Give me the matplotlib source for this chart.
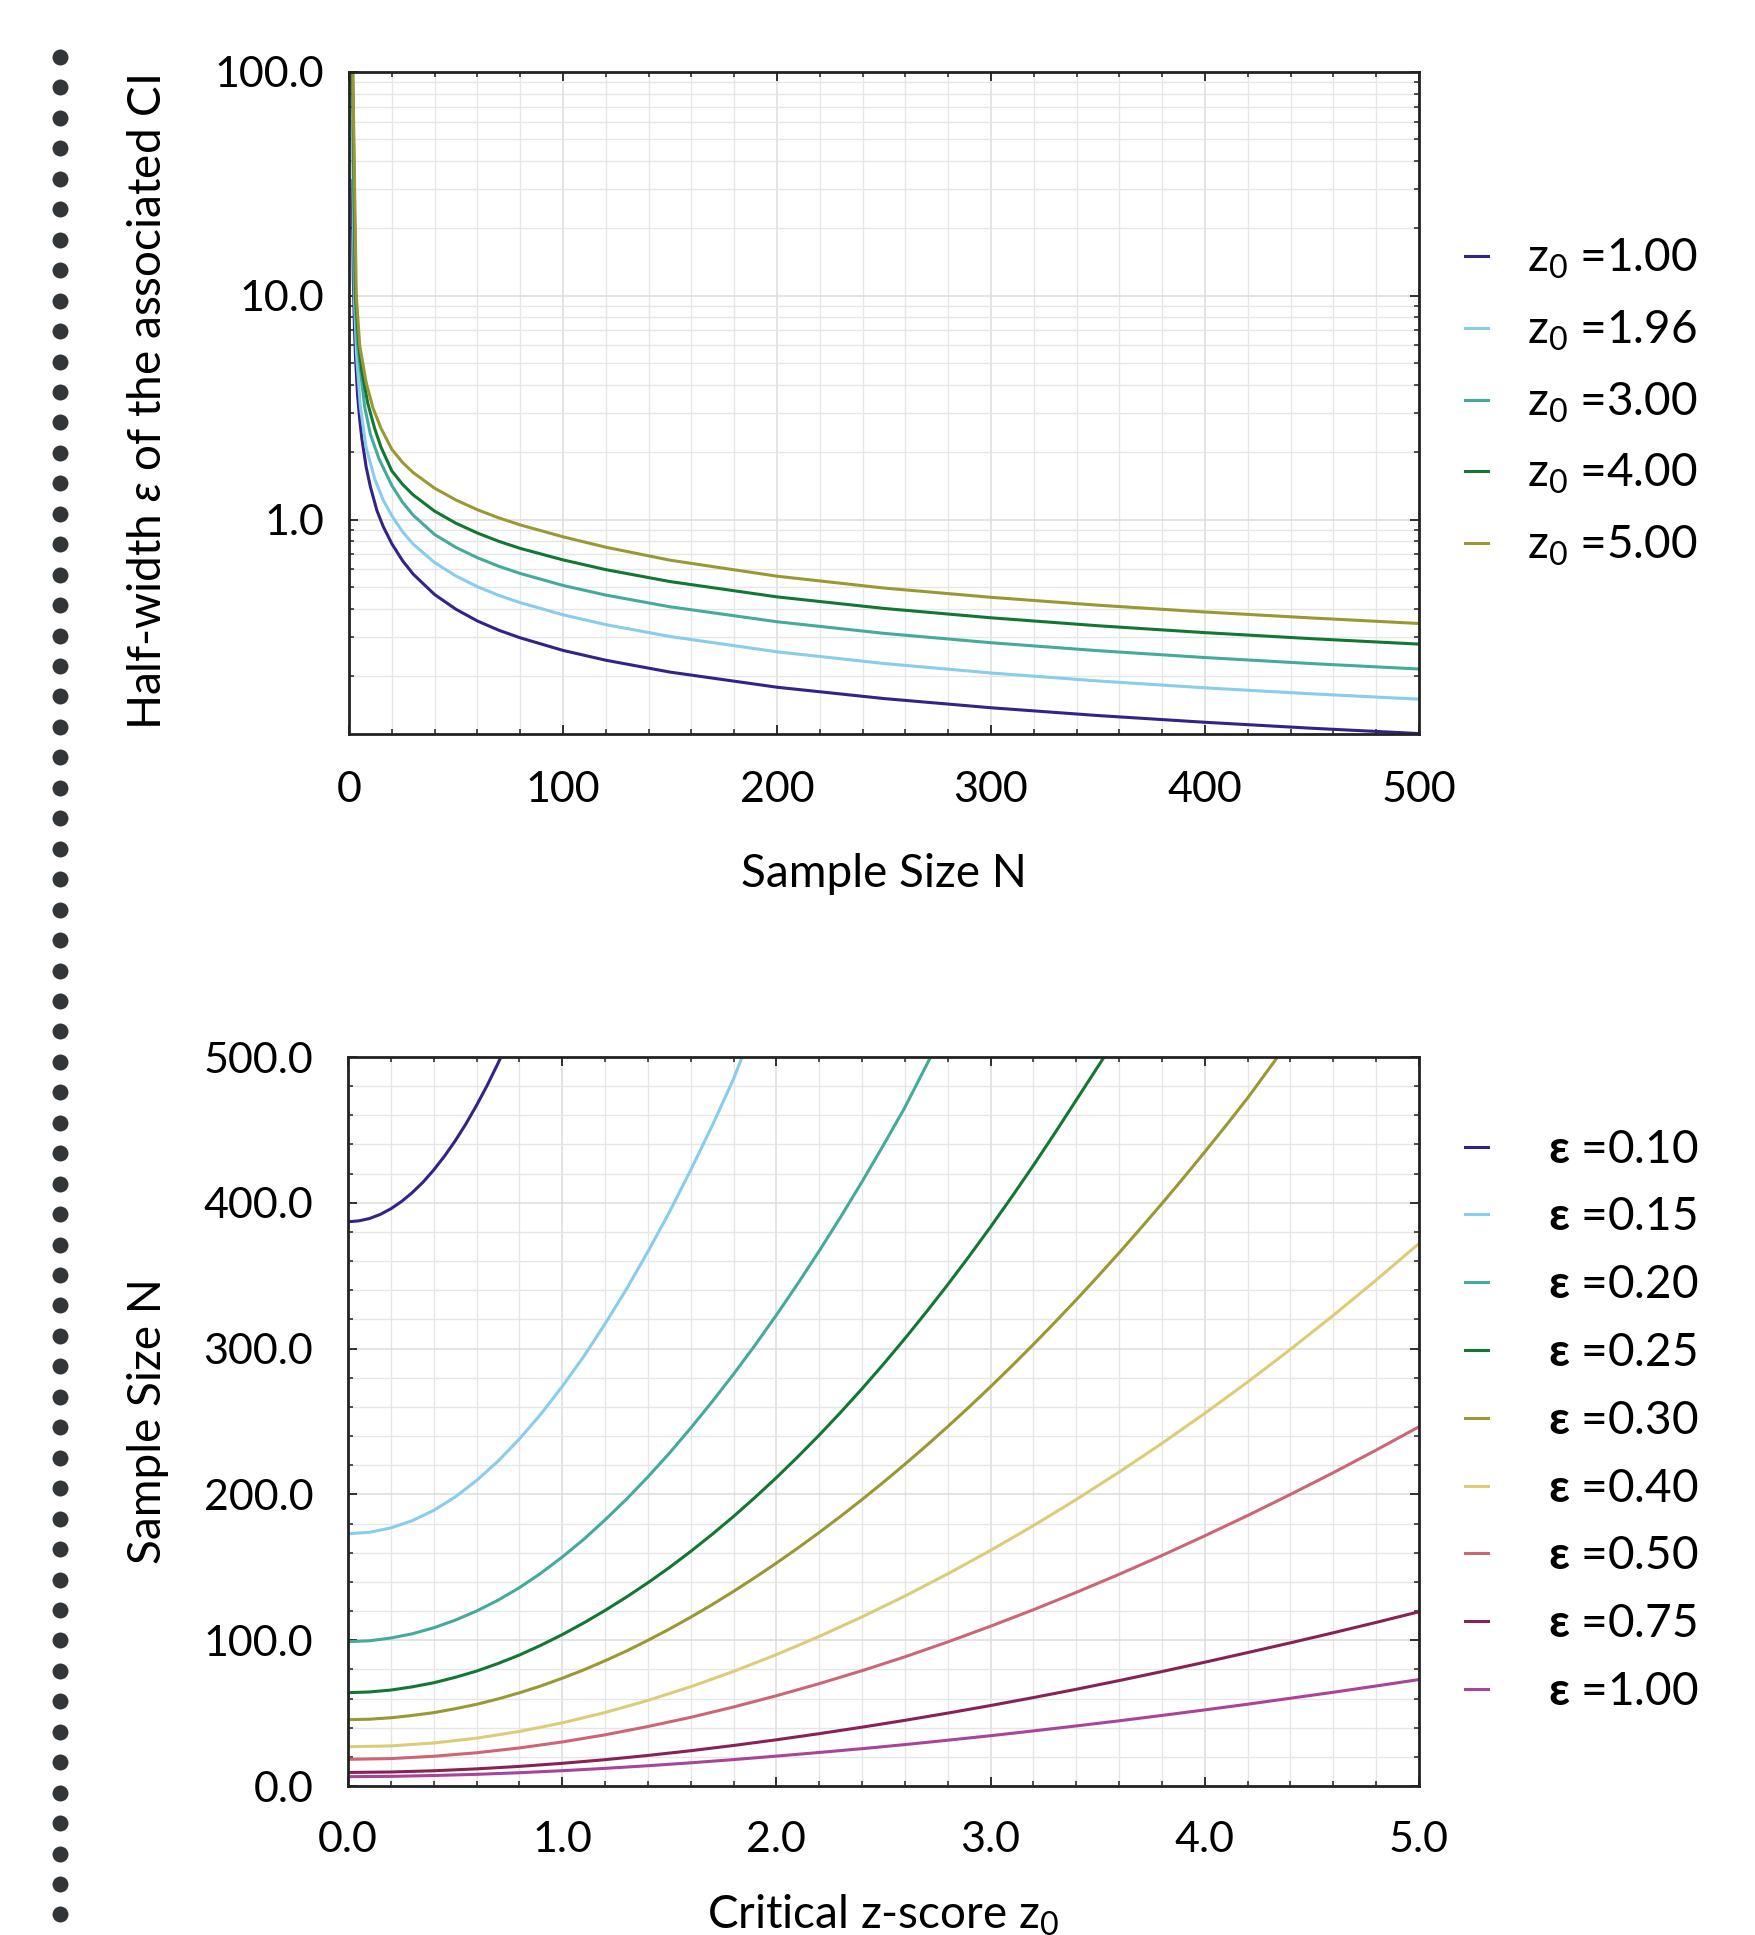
import numpy as np
import matplotlib.pyplot as plt
from matplotlib.ticker import MultipleLocator, FormatStrFormatter, LogLocator, NullFormatter

plt.rcParams['font.family'] = ['Lato', 'DejaVu Sans']
plt.rcParams['mathtext.fontset'] = 'custom'
plt.rcParams['mathtext.rm'] = 'Lato'
plt.rcParams['mathtext.it'] = 'Lato:italic'
plt.rcParams['mathtext.bf'] = 'Lato:bold'
plt.rcParams['mathtext.fallback'] = 'stix'

# ---- top panel: half-width vs sample size, one curve per z0 ----
z_levels = [1.00, 1.96, 3.00, 4.00, 5.00]

N_z1 = [1.5, 2.0, 2.5, 3, 4, 5, 6, 8, 10, 13, 16, 20, 25, 30, 40, 50, 60, 70, 80,
        100, 120, 150, 200, 250, 300, 350, 400, 450, 500]
eps_z1 = [32.7, 12, 7.5, 5.4, 3.6, 2.8, 2.3, 1.72, 1.4, 1.1, 0.93, 0.78, 0.655, 0.57, 0.462,
          0.397, 0.352, 0.320, 0.296, 0.260, 0.235, 0.208, 0.178, 0.1584, 0.1441, 0.1330,
          0.1241, 0.1167, 0.1105]

N_z196 = [1.5, 2.5, 3.5, 5.3, 8, 12, 16, 20, 25, 30, 40, 50, 60, 70, 80, 100, 120, 150,
          200, 250, 300, 350, 400, 450, 500]
eps_z196 = [60, 10, 5.5, 3.2, 2.1, 1.52, 1.22, 1.04, 0.882, 0.776, 0.642, 0.559, 0.501, 0.458,
            0.425, 0.375, 0.339, 0.300, 0.2563, 0.2272, 0.2061, 0.1899, 0.1769, 0.1663, 0.1574]

N_z3 = [1.6, 2.8, 4, 7.3, 10, 14, 20, 25, 30, 40, 50, 60, 70, 80, 100, 120, 150, 200,
        250, 300, 350, 400, 450, 500]
eps_z3 = [100, 10, 6, 3.2, 2.4, 1.87, 1.42, 1.195, 1.045, 0.857, 0.750, 0.675, 0.618, 0.574,
          0.5074, 0.4594, 0.4073, 0.3492, 0.3099, 0.2814, 0.2593, 0.2416, 0.2270, 0.2147]

N_z4 = [1.7, 3.1, 4.5, 6, 8.8, 12, 15, 20, 25, 30, 40, 50, 60, 70, 80, 100, 120, 150, 200,
        250, 300, 350, 400, 450, 500]
eps_z4 = [100, 10, 6.2, 4.6, 3.3, 2.55, 2.1, 1.65, 1.437, 1.288, 1.090, 0.962, 0.870, 0.799,
          0.743, 0.660, 0.597, 0.528, 0.451, 0.4005, 0.3637, 0.3351, 0.3122, 0.2933, 0.2774]

N_z5 = [1.8, 3.4, 5, 8, 11.2, 15, 20, 25, 30, 40, 50, 60, 70, 80, 100, 120, 150, 200,
        250, 300, 350, 400, 450, 500]
eps_z5 = [100, 10, 6.0, 4.1, 3.15, 2.55, 2.06, 1.80, 1.62, 1.38, 1.222, 1.106, 1.017, 0.946,
          0.837, 0.752, 0.658, 0.558, 0.494, 0.449, 0.414, 0.386, 0.363, 0.343]

top_N = [N_z1, N_z196, N_z3, N_z4, N_z5]
top_eps = [eps_z1, eps_z196, eps_z3, eps_z4, eps_z5]
top_colors = ['#332288', '#88CCEE', '#44AA99', '#117733', '#999933']

# ---- bottom panel: required sample size vs critical z-score, one curve per epsilon ----
eps_levels = [0.10, 0.15, 0.20, 0.25, 0.30, 0.40, 0.50, 0.75, 1.00]

z_fine = [0.0, 0.1, 0.2, 0.3, 0.4, 0.5, 0.6, 0.7, 0.8, 0.9, 1.0, 1.1, 1.2, 1.3, 1.4, 1.5, 1.6,
          1.7, 1.8, 1.9, 2.0, 2.1, 2.2, 2.3, 2.4, 2.5, 2.6, 2.7, 2.8, 2.9, 3.0, 3.1, 3.2, 3.3,
          3.4, 3.5, 3.6, 3.7, 3.8, 3.9, 4.0, 4.1, 4.2, 4.3, 4.4, 4.5, 4.6, 4.7, 4.8, 4.9, 5.0]
z_grid = z_fine[::2]

z_e010 = [0.0, 0.05, 0.1, 0.15, 0.2, 0.25, 0.3, 0.35, 0.4, 0.45, 0.5, 0.55, 0.6, 0.65, 0.7, 0.714]
N_e010 = [387, 387.6, 389.2, 392.0, 395.9, 400.9, 407, 414.1, 422.5, 431.9, 442.4, 454,
          466.8, 480.6, 495.6, 500]

z_e015 = z_fine[:19] + [1.84]
N_e015 = [173, 174, 177, 182, 189, 198.2, 209.5, 222.7, 238, 255, 274, 294.5, 317, 340.8,
          366.5, 393.5, 422.5, 452.8, 485, 500]

z_e020 = z_fine[:27] + [2.72]
N_e020 = [99, 99.6, 101.5, 104.4, 108.5, 113.7, 120, 127.4, 136, 145.9, 157, 169.1, 182.5,
          196.7, 212, 228.2, 245.5, 263.6, 282.5, 302.3, 323, 344.6, 367, 390.3, 414.5,
          439.6, 465.5, 500]

z_e025 = z_fine[:35] + [3.53]
N_e025 = [64, 64.5, 65.8, 68, 70.8, 74.5, 78.8, 84, 89.8, 96.5, 103.8, 111.8, 120.4, 129.6,
          139.4, 149.8, 160.9, 172.6, 184.9, 197.9, 211.5, 225.8, 240.7, 256.3, 272.5, 289.4,
          306.9, 325.1, 343.9, 363.4, 383.5, 404.3, 425.7, 447.8, 470.5, 500]

z_e030 = z_fine[:43] + [4.34]
N_e030 = [45.5, 45.8, 46.8, 48.4, 50.3, 53.0, 56, 59.7, 63.9, 68.6, 73.9, 79.6, 85.9, 92.6,
          99.9, 107.6, 115.8, 124.4, 133.5, 143, 152.9, 163.2, 173.9, 185, 196.5, 208.4,
          220.7, 233.4, 246.5, 260, 273.9, 288.2, 302.9, 318, 333.5, 349.4, 365.7, 382.4,
          399.5, 417, 434.9, 453.2, 471.9, 500]

N_e040 = [26.9, 27.5, 29.5, 32.8, 37.4, 43.3, 50.4, 58.7, 68.1, 78.6, 90.1, 102.6, 116.0,
          130.3, 145.5, 161.6, 178.6, 196.5, 215.3, 235.0, 255.6, 277.1, 299.5, 322.8, 347.0,
          372.1]
N_e050 = [18.3, 18.8, 20.4, 22.8, 26.1, 30.2, 35.1, 40.8, 47.1, 54.2, 61.9, 70.2, 79.1, 88.6,
          98.8, 109.6, 120.9, 132.8, 145.2, 158.1, 171.6, 185.5, 200.0, 214.9, 230.4, 246.4]
N_e075 = [9.3, 9.6, 10.45, 11.75, 13.45, 15.55, 18.05, 20.95, 24.2, 27.8, 31.7, 35.9, 40.35,
          45.05, 50.0, 55.2, 60.65, 66.35, 72.3, 78.5, 84.9, 91.5, 98.2, 105.1, 112.2, 119.5]
N_e100 = [6.4, 6.6, 7.2, 8, 9.1, 10.5, 12.1, 13.9, 15.9, 18.1, 20.5, 23, 25.6, 28.4, 31.4,
          34.5, 37.8, 41.2, 44.7, 48.4, 52.2, 56.1, 60.2, 64.3, 68.6, 73]

bot_z = [z_e010, z_e015, z_e020, z_e025, z_e030, z_grid, z_grid, z_grid, z_grid]
bot_N = [N_e010, N_e015, N_e020, N_e025, N_e030, N_e040, N_e050, N_e075, N_e100]
bot_colors = ['#332288', '#88CCEE', '#44AA99', '#117733', '#999933',
              '#DDCC77', '#CC6677', '#882255', '#AA4499']

FS = 33
TFS = 31
W, H = 1755, 1935

fig = plt.figure(figsize=(W / 100, H / 100), dpi=100)

# notebook-style dotted margin
bg = fig.add_axes([0, 0, 1, 1], zorder=-1)
bg.set_xlim(0, W)
bg.set_ylim(H, 0)
bg.axis('off')
bg.plot(np.full(62, 60), 57 + 30.45 * np.arange(62), 'o', ms=11.5, color='#333638', mec='none')

ax1 = fig.add_axes([349 / W, 1 - 734 / H, 1070 / W, 662 / H])
ax2 = fig.add_axes([348 / W, 1 - 1786 / H, 1071 / W, 729 / H])


def style(ax):
    for s in ax.spines.values():
        s.set_linewidth(2.0)
        s.set_color('#222222')
    ax.tick_params(which='both', direction='in', top=True, right=True, colors='#222222',
                   labelcolor='black', labelsize=TFS)
    ax.tick_params(which='major', length=6.5, width=1.3)
    ax.tick_params(which='minor', length=3.3, width=1.1)
    ax.grid(which='major', color='#dcdcdc', lw=1.1)
    ax.grid(which='minor', color='#e6e6e6', lw=1.0)
    ax.set_axisbelow(True)


# top panel
for N, e, c, z in zip(top_N, top_eps, top_colors, z_levels):
    ax1.plot(N, e, color=c, lw=2.2, label='z$_0$ =%.2f' % z)
ax1.set_yscale('log')
ax1.set_xlim(0, 500)
ax1.set_ylim(0.11, 100)
ax1.xaxis.set_major_locator(MultipleLocator(100))
ax1.xaxis.set_minor_locator(MultipleLocator(20))
ax1.xaxis.set_major_formatter(FormatStrFormatter('%d'))
ax1.yaxis.set_major_locator(LogLocator(base=10))
ax1.yaxis.set_minor_locator(LogLocator(base=10, subs=np.arange(2, 10)))
ax1.yaxis.set_major_formatter(FormatStrFormatter('%.1f'))
ax1.yaxis.set_minor_formatter(NullFormatter())
style(ax1)
ax1.tick_params(axis='x', pad=27)
ax1.tick_params(axis='y', pad=18)
ax1.set_xlabel('Sample Size N', fontsize=FS)
ax1.set_ylabel(r'Half-width $\varepsilon$ of the associated CI', fontsize=FS)
ax1.xaxis.set_label_coords(0.5, (734 - 874) / 662)
ax1.yaxis.set_label_coords((148 - 349) / 1070, 0.5)
ax1.xaxis.label.set_va('center')
ax1.yaxis.label.set_va('center')
ax1.legend(loc='center left', bbox_to_anchor=(1.043, 0.5005), frameon=False, fontsize=FS,
           handlelength=0.5, handletextpad=0.85, labelspacing=0.6, borderpad=0, borderaxespad=0)

# bottom panel
for z, N, c, e in zip(bot_z, bot_N, bot_colors, eps_levels):
    ax2.plot(z, N, color=c, lw=2.2, label=r'$\boldsymbol{\varepsilon}$ =%.2f' % e)
ax2.set_xlim(0, 5)
ax2.set_ylim(0, 500)
ax2.xaxis.set_major_locator(MultipleLocator(1))
ax2.xaxis.set_minor_locator(MultipleLocator(0.2))
ax2.yaxis.set_major_locator(MultipleLocator(100))
ax2.yaxis.set_minor_locator(MultipleLocator(20))
ax2.xaxis.set_major_formatter(FormatStrFormatter('%.1f'))
ax2.yaxis.set_major_formatter(FormatStrFormatter('%.1f'))
style(ax2)
ax2.tick_params(axis='x', pad=25)
ax2.tick_params(axis='y', pad=25)
ax2.set_xlabel('Critical z-score z$_0$', fontsize=FS)
ax2.set_ylabel('Sample Size N', fontsize=FS)
ax2.xaxis.set_label_coords(0.5, (1786 - 1915) / 729)
ax2.yaxis.set_label_coords((148 - 348) / 1071, 0.5)
ax2.xaxis.label.set_va('center')
ax2.yaxis.label.set_va('center')
ax2.legend(loc='center left', bbox_to_anchor=(1.043, 0.501), frameon=False, fontsize=FS,
           handlelength=0.5, handletextpad=1.3, labelspacing=0.563, borderpad=0, borderaxespad=0)

fig.savefig('out.png', dpi=100)
